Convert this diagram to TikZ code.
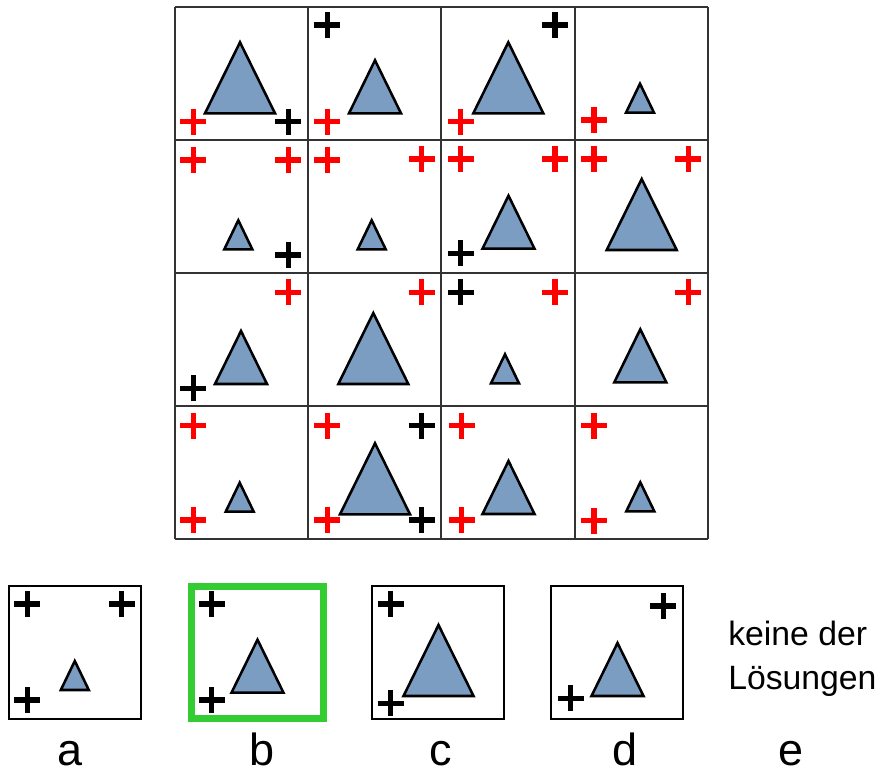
\documentclass[tikz,border=0pt]{standalone}
\usepackage{fontspec}
\setmainfont{Liberation Sans}
\usetikzlibrary{positioning}

\definecolor{triblue}{RGB}{123,157,194}
\definecolor{boxgreen}{RGB}{51,204,51}

\tikzset{
  gridline/.style={line width=1.2pt, black!80},
  tri/.style={fill=triblue, draw=black, line width=1.8pt, line join=miter},
  redplus/.style={red, line width=3.6pt},
  blackplus/.style={black, line width=3.6pt},
  optbox/.style={draw, line width=1.4pt, minimum width=3.3cm, minimum height=3.32cm, inner sep=0pt},
  lbl/.style={font=\fontsize{32}{38}\selectfont, anchor=base, inner sep=0pt},
}

% triangle: base centre x, base y, half width, height
\newcommand{\drawtri}[4]{\draw[tri] (#1,#2) ++(-#3,0) -- ++(2*#3,0) -- ++(-#3,-#4) -- cycle;}
\newcommand{\bigtri}[2]{\drawtri{#1}{#2}{35}{71}}
\newcommand{\midtri}[2]{\drawtri{#1}{#2}{26}{53}}
\newcommand{\smalltri}[2]{\drawtri{#1}{#2}{14}{29}}
% plus sign: style, x, y
\newcommand{\plusmark}[3]{\draw[#1] (#2,#3) +(-13,0) -- +(13,0) +(0,-13) -- +(0,13);}

\begin{document}
\begin{tikzpicture}[x=0.025cm, y=-0.025cm]
        \useasboundingbox (0,0) rectangle (889,769);

        % Grid
        \foreach \x in {175,308,441,575,708}
            \draw[gridline] (\x,7) -- (\x,539);
        \foreach \y in {7,140,273,406,539}
            \draw[gridline] (175,\y) -- (708,\y);

        % Row 1
        \bigtri{240}{113.3}
        \plusmark{redplus}{193.3}{121.7}
        \plusmark{blackplus}{288.3}{121.7}
        \midtri{375}{113.3}
        \plusmark{blackplus}{327.3}{25}
        \plusmark{redplus}{327.3}{121.7}
        \bigtri{508.3}{113.3}
        \plusmark{blackplus}{555}{25}
        \plusmark{redplus}{460.7}{121.7}
        \smalltri{640}{112.7}
        \plusmark{redplus}{594}{120}

        % Row 2
        \smalltri{238.3}{249.3}
        \plusmark{redplus}{193.3}{160}
        \plusmark{redplus}{288.3}{160}
        \plusmark{blackplus}{288.3}{255}
        \smalltri{371.7}{249.3}
        \plusmark{redplus}{327.3}{160}
        \plusmark{redplus}{421.7}{159}
        \midtri{508.5}{248.7}
        \plusmark{redplus}{460.7}{159}
        \plusmark{redplus}{555}{159}
        \plusmark{blackplus}{460.7}{253.3}
        \bigtri{641.7}{250}
        \plusmark{redplus}{594}{159}
        \plusmark{redplus}{688.3}{159}

        % Row 3
        \midtri{241}{384}
        \plusmark{redplus}{288.3}{292.3}
        \plusmark{blackplus}{193.3}{388.3}
        \bigtri{373.3}{384}
        \plusmark{redplus}{421.7}{292.3}
        \smalltri{505}{383.3}
        \plusmark{blackplus}{460.7}{292.3}
        \plusmark{redplus}{555}{292.3}
        \midtri{640.3}{382.3}
        \plusmark{redplus}{688.3}{292.3}

        % Row 4
        \smalltri{239.7}{511.7}
        \plusmark{redplus}{193.3}{425.7}
        \plusmark{redplus}{193.3}{520}
        \bigtri{375}{514.3}
        \plusmark{redplus}{327.3}{425.7}
        \plusmark{blackplus}{421.7}{425.7}
        \plusmark{redplus}{327.3}{520}
        \plusmark{blackplus}{421.7}{520}
        \midtri{508.5}{514}
        \plusmark{redplus}{461.7}{425.7}
        \plusmark{redplus}{461.7}{520}
        \smalltri{640.3}{511.3}
        \plusmark{redplus}{594}{425.7}
        \plusmark{redplus}{594}{520.7}

        % Answer boxes
        \node (opta) [optbox] at (74.7,652.5) {};
        \node (optb) [optbox, draw=boxgreen, line width=5pt, minimum height=3.28cm] at (257.5,652.5) {};
        \node (optc) [optbox] at (438.2,652.5) {};
        \node (optd) [optbox] at (617.2,652.5) {};

        \smalltri{74.8}{690}
        \plusmark{blackplus}{27.3}{604}
        \plusmark{blackplus}{121.7}{604}
        \plusmark{blackplus}{27.3}{700}
        \midtri{257.5}{692.7}
        \plusmark{blackplus}{211.7}{604}
        \plusmark{blackplus}{211.7}{700}
        \bigtri{438.5}{696}
        \plusmark{blackplus}{390.7}{604}
        \plusmark{blackplus}{390.7}{703.3}
        \midtri{617.5}{696}
        \plusmark{blackplus}{663.3}{606}
        \plusmark{blackplus}{570.7}{698.3}

        \node (none) [anchor=west, inner sep=0pt, align=left, font=\fontsize{24}{31}\selectfont] at (728,659) {keine der\\Lösungen};

        % Labels
        \node (la) [lbl] at (70,765) {a};
        \node (lb) [lbl] at (261.7,765) {b};
        \node (lc) [lbl] at (440.8,765) {c};
        \node (ld) [lbl] at (625,765) {d};
        \node (le) [lbl] at (790.8,765) {e};
\end{tikzpicture}
\end{document}
